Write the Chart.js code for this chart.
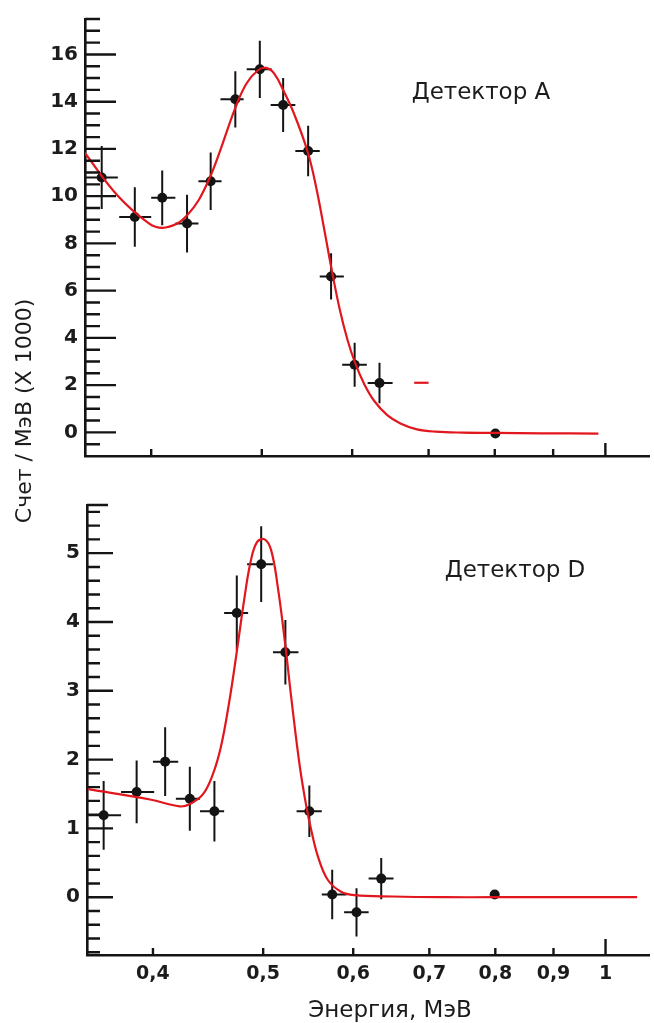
<!DOCTYPE html>
<html>
<head>
<meta charset="utf-8">
<script src="https://cdn.jsdelivr.net/npm/chart.js@4.4.1/dist/chart.umd.min.js"></script>
<style>
    body { margin: 0; background: #fff; }
    #wrap { position: relative; width: 654px; height: 1023px; overflow: hidden; font-family: "DejaVu Sans", sans-serif; color: #1c1c1c; }
    canvas { position: absolute; left: 0; }
    .lbl { position: absolute; font-size: 23px; line-height: 23px; white-space: nowrap; text-align: center; width: 300px; }
</style>
</head>
<body>
<div id="wrap">
    <canvas id="chartA" width="654" height="480" style="top:0;width:654px;height:480px"></canvas>
    <canvas id="chartD" width="654" height="543" style="top:480px;width:654px;height:543px"></canvas>
    <div class="lbl" style="left:331px;top:80px">Детектор A</div>
    <div class="lbl" style="left:365px;top:558px">Детектор D</div>
    <div class="lbl" style="left:240px;top:998px">Энергия, МэВ</div>
    <div class="lbl" style="left:-126px;top:400px;font-size:22px;line-height:22px;transform:rotate(-90deg)">Счет / МэВ (X 1000)</div>
</div>
<script>
// x axis (energy, MeV) - log scale
const xTicks = [0.4, 0.5, 0.6, 0.7, 0.8, 0.9, 1];

// Detector A: measured points (x1000 counts / MeV)
const aE   = [0.362, 0.387, 0.409, 0.430, 0.451, 0.474, 0.498, 0.522, 0.549, 0.575, 0.603, 0.634, 0.801];
const aVal = [10.79, 9.12, 9.93, 8.84, 10.63, 14.10, 15.37, 13.86, 11.91, 6.60, 2.86, 2.09, -0.05];
const aErr = [1.33, 1.26, 1.16, 1.22, 1.22, 1.19, 1.21, 1.14, 1.07, 0.98, 0.93, 0.86, 0];
const aLo  = [0.350, 0.375, 0.400, 0.420, 0.440, 0.460, 0.485, 0.509, 0.535, 0.562, 0.588, 0.619, 0.801];
const aHi  = [0.374, 0.400, 0.420, 0.440, 0.461, 0.482, 0.510, 0.535, 0.562, 0.590, 0.618, 0.651, 0.801];
// Detector A: fit curve
const fitAX = [0.3498, 0.3739, 0.3984, 0.4091, 0.4216, 0.4301, 0.4403, 0.4507, 0.4598, 0.4739, 0.4848,
               0.4962, 0.5043, 0.5127, 0.5229, 0.5343, 0.5487, 0.5579, 0.5673, 0.5749, 0.5847, 0.5945,
               0.6037, 0.6147, 0.6271, 0.6440, 0.6613, 0.6838, 0.71, 0.75, 0.80, 0.88, 0.986];
const fitAY = [11.84, 10.02, 8.84, 8.66, 8.84, 9.19, 9.84, 10.84, 11.94, 13.73, 14.77,
               15.33, 15.43, 15.19, 14.42, 13.42, 11.85, 10.39, 8.56, 7.04, 5.28, 3.90,
               2.93, 2.05, 1.34, 0.73, 0.38, 0.13, 0.03, -0.01, -0.02, -0.04, -0.05];
// stray red bin segment
const segAX = [0.68, 0.70];
const segAY = [2.1, 2.1];
const aMajor = [0, 2, 4, 6, 8, 10, 12, 14, 16];

// Detector D
const dE   = [0.362, 0.387, 0.410, 0.431, 0.453, 0.474, 0.498, 0.523, 0.549, 0.575, 0.604, 0.635, 0.799];
const dVal = [1.19, 1.53, 1.97, 1.43, 1.25, 4.13, 4.84, 3.56, 1.25, 0.04, -0.22, 0.27, 0.04];
const dErr = [0.50, 0.455, 0.50, 0.465, 0.44, 0.545, 0.55, 0.47, 0.375, 0.36, 0.35, 0.30, 0];
const dLo  = [0.351, 0.375, 0.400, 0.419, 0.440, 0.462, 0.484, 0.510, 0.535, 0.563, 0.589, 0.619, 0.799];
const dHi  = [0.375, 0.401, 0.421, 0.440, 0.462, 0.485, 0.510, 0.537, 0.563, 0.592, 0.619, 0.651, 0.799];
const fitDX = [0.3507, 0.3976, 0.4222, 0.4307, 0.4423, 0.4512, 0.4589, 0.4666, 0.4745, 0.4809, 0.4874,
               0.4938, 0.5015, 0.5082, 0.5150, 0.5227, 0.5296, 0.5386, 0.5458, 0.5512, 0.5587, 0.5700,
               0.5854, 0.6013, 0.65, 0.72, 0.80, 0.90, 1.0, 1.066];
const fitDY = [1.57, 1.42, 1.32, 1.35, 1.49, 1.77, 2.18, 2.82, 3.62, 4.30, 4.87,
               5.16, 5.20, 5.04, 4.51, 3.69, 2.86, 1.89, 1.31, 0.97, 0.59, 0.25,
               0.08, 0.03, 0.01, 0, 0, 0, 0, 0];
const dMajor = [0, 1, 2, 3, 4, 5];

const RED = '#e2161d';
const INK = '#141414';

Chart.defaults.font.family = 'DejaVu Sans';

function toPts(xs, ys) {
    return xs.map((x, i) => ({ x: x, y: ys[i] }));
}

// horizontal and vertical error bars
function errorBars(e, v, err, lo, hi) {
    return {
        id: 'errorBars',
        beforeDatasetsDraw(chart) {
            const { ctx, scales: { x, y } } = chart;
            ctx.save();
            ctx.strokeStyle = INK;
            ctx.lineWidth = 2;
            ctx.beginPath();
            e.forEach((xe, i) => {
                const px = x.getPixelForValue(xe);
                const py = y.getPixelForValue(v[i]);
                if (err[i] > 0) {
                    ctx.moveTo(px, y.getPixelForValue(v[i] - err[i]));
                    ctx.lineTo(px, y.getPixelForValue(v[i] + err[i]));
                }
                if (hi[i] > lo[i]) {
                    ctx.moveTo(x.getPixelForValue(lo[i]), py);
                    ctx.lineTo(x.getPixelForValue(hi[i]), py);
                }
            });
            ctx.stroke();
            ctx.restore();
        }
    };
}

// tick marks pointing into the plot area
function inTicks(c) {
    return {
        id: 'inTicks',
        afterDraw(chart) {
            const { ctx, chartArea: a, scales: { x, y } } = chart;
            ctx.save();
            ctx.strokeStyle = INK;
            ctx.lineWidth = 2.4;
            ctx.beginPath();
            const n = Math.floor((y.max - c.yFrom) / c.yStep + 1e-6);
            for (let k = 0; k <= n; k++) {
                const v = c.yFrom + k * c.yStep;
                const major = c.major.some(m => Math.abs(m - v) < 1e-6);
                const py = y.getPixelForValue(v);
                ctx.moveTo(a.left, py);
                ctx.lineTo(a.left + (major ? c.majLen : c.minLen), py);
            }
            if (c.capLen) {
                ctx.moveTo(a.left, a.top);
                ctx.lineTo(a.left + c.capLen, a.top);
            }
            xTicks.forEach(v => {
                const px = x.getPixelForValue(v);
                ctx.moveTo(px, a.bottom);
                ctx.lineTo(px, a.bottom - (v === 1 ? c.xLong : c.xShort));
            });
            ctx.stroke();
            ctx.restore();
        }
    };
}

function makePanel(id, p) {
    const tickFont = { family: 'DejaVu Sans', weight: 'bold', size: 20 };
    return new Chart(document.getElementById(id), {
        type: 'scatter',
        data: {
            datasets: [
                {
                    data: toPts(p.fitX, p.fitY),
                    showLine: true,
                    borderColor: RED,
                    borderWidth: 2.2,
                    pointRadius: 0,
                    tension: 0.4,
                    order: 0
                },
                {
                    data: toPts(p.e, p.v),
                    showLine: false,
                    pointRadius: 5,
                    pointBackgroundColor: INK,
                    pointBorderWidth: 0,
                    order: 1
                },
                {
                    data: p.seg ? toPts(p.seg[0], p.seg[1]) : [],
                    showLine: true,
                    borderColor: RED,
                    borderWidth: 2.2,
                    pointRadius: 0,
                    order: 0
                }
            ]
        },
        options: {
            responsive: false,
            devicePixelRatio: 1,
            animation: false,
            layout: { padding: p.pad },
            plugins: { legend: { display: false }, tooltip: { enabled: false } },
            scales: {
                x: {
                    type: 'logarithmic',
                    min: 0.35,
                    max: 1.092,
                    bounds: 'data',
                    afterBuildTicks: s => { s.ticks = xTicks.map(v => ({ value: v })); },
                    afterFit: s => { s.height = p.xh; },
                    grid: { display: false, drawTicks: false },
                    border: { display: true, color: INK, width: 2.6 },
                    ticks: {
                        display: p.showX,
                        padding: 8,
                        autoSkip: false,
                        maxRotation: 0,
                        color: '#1c1c1c',
                        font: { family: 'DejaVu Sans', weight: 'bold', size: 19 },
                        callback: v => String(v).replace('.', ',')
                    }
                },
                y: {
                    min: p.ymin,
                    max: p.ymax,
                    bounds: 'data',
                    afterBuildTicks: s => { s.ticks = p.major.map(v => ({ value: v })); },
                    afterFit: s => { s.width = p.yw; },
                    grid: { display: false, drawTicks: false },
                    border: { display: true, color: INK, width: 2.6 },
                    ticks: { padding: 7, color: '#1c1c1c', font: tickFont }
                }
            }
        },
        plugins: [errorBars(p.e, p.v, p.err, p.lo, p.hi), inTicks(p.ticks)]
    });
}

makePanel('chartA', {
    e: aE, v: aVal, err: aErr, lo: aLo, hi: aHi,
    fitX: fitAX, fitY: fitAY, seg: [segAX, segAY],
    major: aMajor, ymin: -1, ymax: 17.5,
    yw: 85, xh: 0, showX: false,
    pad: { top: 13, bottom: 24, left: 0, right: 0 },
    ticks: { major: aMajor, yFrom: -0.5, yStep: 0.5, majLen: 31, minLen: 15, capLen: 0, xShort: 7, xLong: 13 }
});

makePanel('chartD', {
    e: dE, v: dVal, err: dErr, lo: dLo, hi: dHi,
    fitX: fitDX, fitY: fitDY, seg: null,
    major: dMajor, ymin: -0.84, ymax: 5.7,
    yw: 87, xh: 68, showX: true,
    pad: { top: 25, bottom: 0, left: 0, right: 0 },
    ticks: { major: dMajor, yFrom: -0.8, yStep: 0.2, majLen: 26, minLen: 13, capLen: 21, xShort: 7, xLong: 16 }
});
</script>
</body>
</html>
